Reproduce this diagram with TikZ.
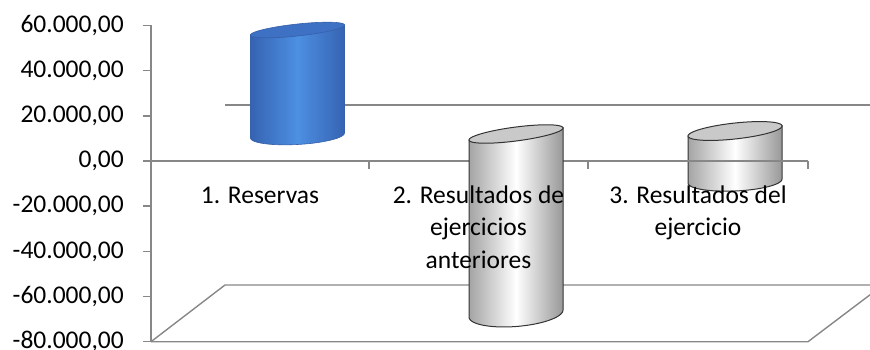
\documentclass[tikz,border=0pt]{standalone}
\usepackage{fontspec}
\setmainfont{Carlito}
\definecolor{axisgray}{HTML}{878787}
\definecolor{cylblueD}{HTML}{3663B2}
\definecolor{cylblueL}{HTML}{4D8FE2}
\definecolor{cylblueT}{HTML}{3E70C4}
\definecolor{cylblueE}{HTML}{3560AA}
\definecolor{grayL}{HTML}{A4A4A4}
\definecolor{grayR}{HTML}{989898}
\definecolor{grayT}{HTML}{C9C9C9}
\newcommand\lbl{\fontsize{25.5}{32.5}\selectfont}
% #1 cx, #2 top cy, #3 top tilt, #4 top minor, #5 bottom cy, #6 bottom tilt, #7 bottom minor, #8 style prefix
\newcommand\drawcyl[8]{%
  \path[#8body] ({#1-47},{#2+#3}) -- ({#1-47},{#5+#6})
    -- plot[domain=180:0,samples=60] ({#1+47*cos(\x)},{#5-#6*cos(\x)+#7*sin(\x)})
    -- ({#1+47},{#2-#3}) -- cycle;
  \path[#8top] plot[domain=0:360,samples=90] ({#1+47*cos(\x)},{#2-#3*cos(\x)+#4*sin(\x)}) -- cycle;
}
\begin{document}
\begin{tikzpicture}[x=1pt,y=-1pt,
  grid/.style={draw=axisgray, line width=1.4pt},
  ylab/.style={anchor=east, inner sep=0pt, font=\lbl},
  catlab/.style={anchor=base, align=center, inner sep=0pt, font=\lbl},
  bluebody/.style={left color=cylblueD, right color=cylblueD, middle color=cylblueL, draw=cylblueE, line width=0.6pt},
  bluetop/.style={fill=cylblueT, draw=cylblueE, line width=0.6pt},
  graybody/.style={left color=grayL, right color=grayR, middle color=white, draw=black!80, line width=1pt},
  graytop/.style={fill=grayT, draw=black!80, line width=1pt}]
\useasboundingbox (0,0) rectangle (870,350);

% cylinder 3 lies behind the front zero line
\drawcyl{735}{131}{5}{8}{181}{2}{10}{gray}

% frame coordinates
\coordinate (yt) at (151,25.5);
\coordinate (yb) at (151,341.7);
\coordinate (z0) at (151,161);
\coordinate (z1) at (369,161);
\coordinate (z2) at (588,161);
\coordinate (z3) at (808,161);
\coordinate (bz0) at (225,105);
\coordinate (bz1) at (870,105);
\coordinate (f0) at (151,341.7);
\coordinate (f1) at (808,341.7);
\coordinate (fb0) at (225,285);
\coordinate (fb1) at (870,285);
\coordinate (fr) at (870,294.8);

% back wall zero line and floor
\draw[grid] (bz0) -- (bz1);
\draw[grid] (f0) -- (fb0) -- (fb1);
\draw[grid] (f0) -- (f1) -- (fr);
% value axis
\draw[grid] (yt) -- (yb);
\foreach \k in {0,...,7}
  \draw[grid] (143,{25.5+45.17*\k}) -- (151,{25.5+45.17*\k});
% category axis
\draw[grid] (z0) -- (z3);
\foreach \c in {z1,z2,z3}
  \draw[grid] (\c) -- ++(0,7.5);

% cylinders in front of the grid
\drawcyl{297.5}{30}{5}{6}{135.5}{2.5}{9}{blue}
\drawcyl{516}{134}{6}{7}{313.5}{3.5}{13}{gray}

% value labels
\node[ylab] (l60) at (124,25.5) {60.000,00};
\node[ylab] (l40) at (124,70.7) {40.000,00};
\node[ylab] (l20) at (124,115.8) {20.000,00};
\node[ylab] (l0) at (124,161) {0,00};
\node[ylab] (lm20) at (124,206.2) {-20.000,00};
\node[ylab] (lm40) at (124,251.4) {-40.000,00};
\node[ylab] (lm60) at (124,296.5) {-60.000,00};
\node[ylab] (lm80) at (124,341.7) {-80.000,00};

% category labels (base anchor = baseline of the last line)
\node[catlab] (c1) at (260,203) {1. Reservas};
\node[catlab] (c2) at (478.5,268) {2. Resultados de\\ejercicios\\anteriores};
\node[catlab] (c3) at (698,235.5) {3. Resultados del\\ejercicio};
\end{tikzpicture}
\end{document}
